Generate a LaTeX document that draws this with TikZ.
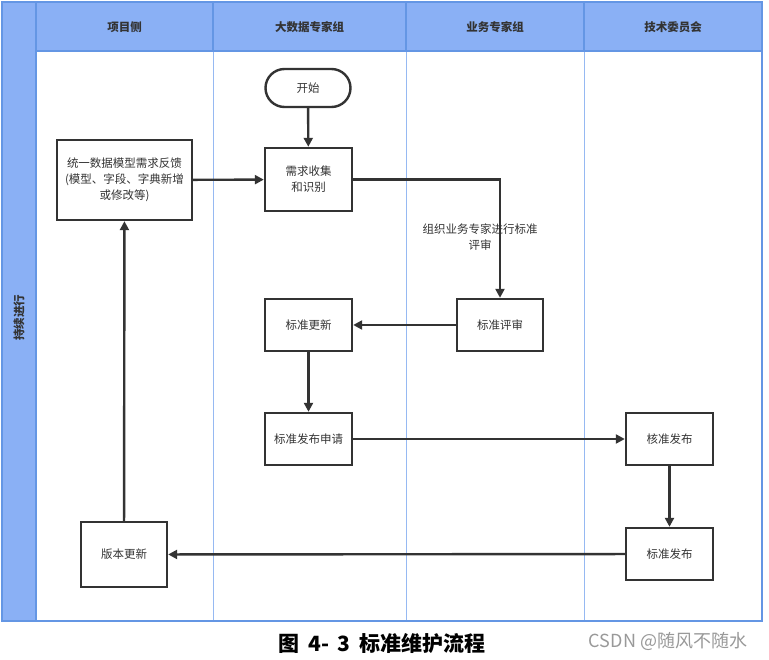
\documentclass[tikz,border=0pt]{standalone}
\usepackage{fontspec}
\setmainfont{Noto Sans CJK SC}
\usetikzlibrary{arrows.meta}
\definecolor{hdr}{RGB}{138,176,245}
\definecolor{frm}{RGB}{100,150,228}
\definecolor{lane}{RGB}{150,185,242}
\definecolor{ink}{RGB}{51,51,51}
\begin{document}
\begin{tikzpicture}[x=1pt,y=-1pt,
  box/.style={draw=ink, line width=2.4pt, fill=white, text=ink, font=\fontsize{11.5}{16}\selectfont, align=center, inner sep=0pt},
  flow/.style={draw=ink, line width=2.4pt, -{Triangle[length=9pt,width=9pt]}},
  hlabel/.style={font=\fontsize{11.5}{14}\selectfont\bfseries, text=ink},
  lanel/.style={lane, line width=1pt},
  frml/.style={frm, line width=1.2pt}]
\useasboundingbox (0,0) rectangle (769,660);
\fill[white] (0,0) rectangle (769,660);
% header and side band
\fill[hdr] (2,2) rectangle (762,51);
\fill[hdr] (2,2) rectangle (36,621);
% lane lines
\draw[lanel] (213,51) -- (213,621);
\draw[lanel] (406,51) -- (406,621);
\draw[lanel] (584,51) -- (584,621);
\draw[frml] (213,2) -- (213,51);
\draw[frml] (406,2) -- (406,51);
\draw[frml] (584,2) -- (584,51);
\draw[frml] (2,2) rectangle (762,621);
\draw[frml] (36,2) -- (36,621);
\draw[frml] (36,51) -- (762,51);
% headers
\node[hlabel] (h1) at (124.5,27) {项目侧};
\node[hlabel] (h2) at (309.5,27) {大数据专家组};
\node[hlabel] (h3) at (495,27) {业务专家组};
\node[hlabel] (h4) at (673,27) {技术委员会};
\node[hlabel, rotate=90] (side) at (19,318) {持续进行};
% nodes
\node[box, rounded corners=19pt, minimum width=85pt, minimum height=38pt] (start) at (308,88) {开始};
\node[box, minimum width=135pt, minimum height=80pt] (feedback) at (124.5,180) {统一数据模型需求反馈\\ (模型、字段、字典新增\\或修改等)};
\node[box, minimum width=87pt, minimum height=63pt] (collect) at (308.5,179.5) {需求收集\\和识别};
\node[box, minimum width=86pt, minimum height=52pt] (review) at (500,325) {标准评审};
\node[box, minimum width=87pt, minimum height=52pt] (update) at (308.5,325) {标准更新};
\node[box, minimum width=87pt, minimum height=52pt] (apply) at (308.5,439) {标准发布申请};
\node[box, minimum width=87pt, minimum height=52pt] (approve) at (669.5,439) {核准发布};
\node[box, minimum width=87pt, minimum height=52pt] (publish) at (669.5,554) {标准发布};
\node[box, minimum width=86pt, minimum height=65pt] (version) at (124,554.5) {版本更新};
\node[font=\fontsize{11.5}{16}\selectfont, text=ink, align=center] (rlabel) at (480,237) {组织业务专家进行标准\\评审};
% connectors
\draw[flow] (start) -- (collect);
\draw[flow] (feedback) -- (collect);
\draw[flow] (collect.east) -| (review.north);
\draw[flow] (review) -- (update);
\draw[flow] (update) -- (apply);
\draw[flow] (apply) -- (approve);
\draw[flow] (approve) -- (publish);
\draw[flow] (publish) -- (version);
\draw[flow] (version) -- (feedback);
% caption
\node[font=\fontsize{21}{24}\selectfont\bfseries, text=black] (cap) at (382,643) {图\hspace{9pt}4-\hspace{8pt}3\hspace{9pt}标准维护流程};
\node[font=\fontsize{18}{20}\selectfont, text=black!40] (wm) at (668,641) {CSDN @随风不随水};
\end{tikzpicture}
\end{document}
